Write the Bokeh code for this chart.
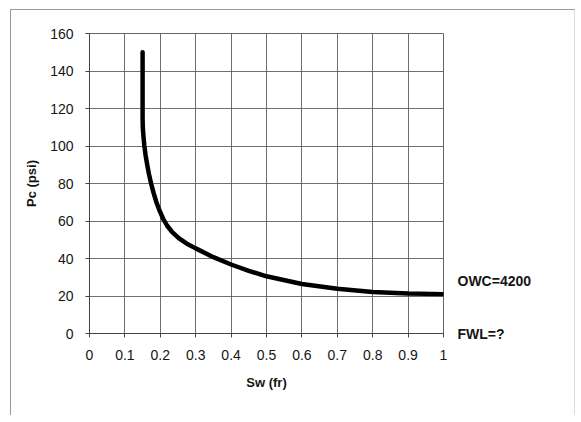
from bokeh.plotting import figure
from bokeh.models import Range1d, FixedTicker, LinearAxis
from bokeh.embed import file_html
from bokeh.resources import INLINE

sw = [0.15, 0.15, 0.1505, 0.1525, 0.155, 0.1585, 0.163, 0.168, 0.174, 0.181, 0.189, 0.198,
      0.208, 0.219, 0.233, 0.252, 0.275, 0.30, 0.35, 0.40, 0.45, 0.50, 0.60, 0.70, 0.80, 0.90, 1.00]
pc = [150, 115, 110, 105, 100, 95, 90, 85, 80, 75, 70, 65.5,
      61.2, 57.6, 54.2, 50.9, 47.9, 45.4, 40.7, 36.8, 33.4, 30.5, 26.4, 23.9, 22.1, 21.3, 21]
x_ticks = [0, 0.1, 0.2, 0.3, 0.4, 0.5, 0.6, 0.7, 0.8, 0.9, 1.0]
x_tick_labels = ["0", "0.1", "0.2", "0.3", "0.4", "0.5", "0.6", "0.7", "0.8", "0.9", "1"]
y_ticks = [0, 20, 40, 60, 80, 100, 120, 140, 160]
owc_label = "OWC=4200"
fwl_label = "FWL=?"
marker_levels = [0, 28]

FONT = "Liberation Sans"
TXT = "#151515"

p = figure(width=565, height=406, output_backend="svg", toolbar_location=None,
           x_range=Range1d(0, 1), y_range=Range1d(0, 160),
           min_border_left=78, min_border_right=133, min_border_top=23, min_border_bottom=83)
p.styles = {"border-left": "1px solid #9a9a9a", "border-top": "1px solid #9a9a9a",
            "border-right": "1px solid #dddddd",
            "margin-left": "10px", "margin-top": "9px"}
p.outline_line_color = "#666666"
p.background_fill_color = "white"
p.border_fill_color = "white"

p.xaxis.ticker = FixedTicker(ticks=x_ticks)
p.xaxis.major_label_overrides = {t: l for t, l in zip(x_ticks, x_tick_labels)}
p.yaxis.ticker = FixedTicker(ticks=y_ticks)
for ax in (p.xaxis, p.yaxis):
    ax.axis_line_color = "#444444"
    ax.major_tick_line_color = "#444444"
    ax.major_tick_out = 4
    ax.major_tick_in = 0
    ax.minor_tick_line_color = None
    ax.major_label_text_font = FONT
    ax.major_label_text_font_size = "14px"
    ax.major_label_text_color = TXT
    ax.axis_label_text_font = FONT
    ax.axis_label_text_font_size = "13px"
    ax.axis_label_text_font_style = "bold"
    ax.axis_label_text_color = TXT
p.xaxis.major_label_standoff = 12
p.yaxis.major_label_standoff = 12
p.xaxis.axis_label = "Sw (fr)"
p.yaxis.axis_label = "Pc (psi)"
p.xaxis.axis_label_standoff = 12
p.yaxis.axis_label_standoff = 8

right = LinearAxis(ticker=FixedTicker(ticks=marker_levels),
                   major_label_overrides={marker_levels[0]: fwl_label, marker_levels[1]: owc_label})
right.axis_line_color = None
right.major_tick_line_color = None
right.minor_tick_line_color = None
right.major_label_standoff = 8
right.major_label_text_font = FONT
right.major_label_text_font_size = "14px"
right.major_label_text_font_style = "bold"
right.major_label_text_color = TXT
p.add_layout(right, "right")

p.grid.grid_line_color = "#555555"
p.grid.grid_line_alpha = 0.85
p.grid.grid_line_width = 1

p.line(sw, pc, line_color="black", line_width=4.5, line_join="round", line_cap="round")

open("out.html", "w").write(file_html(p, INLINE))
